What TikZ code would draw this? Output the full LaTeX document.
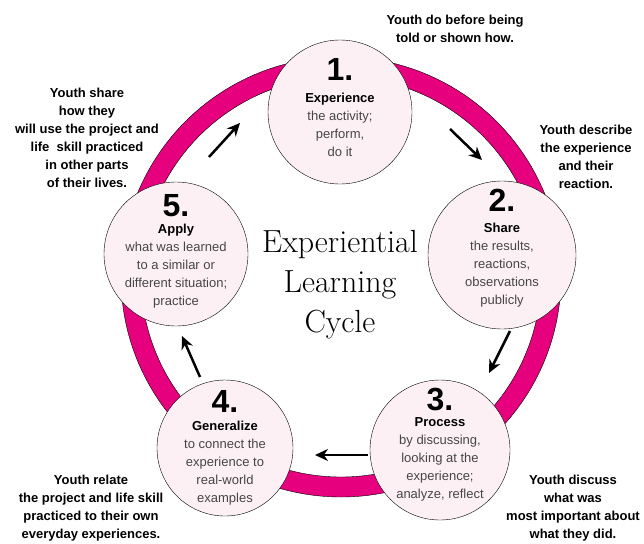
\documentclass[tikz,border=0pt]{standalone}
\usepackage{fontspec}
\setsansfont{Liberation Sans}
\usetikzlibrary{arrows.meta}
\definecolor{ringpink}{RGB}{230,0,126}
\definecolor{stagefill}{RGB}{252,240,244}
\definecolor{stagegray}{RGB}{70,70,70}
\newcommand\stagenum[1]{{\color{black}\fontsize{32}{30}\selectfont\bfseries#1}}
\newcommand\stagename[1]{{\color{black}\bfseries#1}}

\begin{document}
\begin{tikzpicture}[x=1pt,y=-1pt,
    stage/.style={circle,draw,thin,fill=stagefill,inner sep=0pt,minimum size=#1},
    stagetext/.style={align=center,text=stagegray,font=\sffamily\fontsize{13}{18}\selectfont},
    note/.style={align=center,font=\sffamily\bfseries\fontsize{13}{18}\selectfont},
    cyclearrow/.style={-{Stealth[length=13pt,width=12pt]},line width=2.5pt}]
        \useasboundingbox(0,0)rectangle(644,543);
        \coordinate(mid)at(341,277);
        \draw[thin,fill=ringpink,even odd rule](mid)circle(220)(mid)circle(200);

        \node[stage=144pt](exp)at(340,112){};
        \node[stage=148pt](shr)at(502,255){};
        \node[stage=140pt](proc)at(440,450){};
        \node[stage=136pt](gen)at(225,448){};
        \node[stage=144pt](appl)at(176,254){};

        \node[stagetext](exptxt)at(340,108){\stagenum{1.}\\[4pt]\stagename{Experience}\\the activity;\\perform,\\do it};
        \node[stagetext](shrtxt)at(502,248){\stagenum{2.}\\[3pt]\stagename{Share}\\the results,\\reactions,\\observations\\publicly};
        \node[stagetext](proctxt)at(440,445){\stagenum{3.}\\[-2pt]\stagename{Process}\\by discussing,\\looking at the\\experience;\\analyze, reflect};
        \node[stagetext](gentxt)at(225,448){\stagenum{4.}\\[0pt]\stagename{Generalize}\\to connect the\\experience to\\real-world\\examples};
        \node[stagetext](appltxt)at(176,251){\stagenum{5.}\\[-1pt]\stagename{Apply}\\what was learned\\to a similar or\\different situation;\\practice};

        \node[align=center,font=\fontsize{32}{40}\selectfont](title)at(340,285){Experiential\\Learning\\Cycle};

        \node[note](expnote)at(455,29){Youth do before being\\told or shown how.};
        \node[note](shrnote)at(586,157){Youth describe\\the experience\\and their\\reaction.};
        \node[note](procnote)at(573,508){Youth discuss\\what was\\most important about\\what they did.};
        \node[note](gennote)at(91,508){Youth relate\\the project and life skill\\practiced to their own\\everyday experiences.};
        \node[note](applnote)at(87,138){Youth share\\how they\\will use the project and\\life~ skill practiced\\in other parts\\of their lives.};

        \coordinate(a1s)at(450,129);\coordinate(a1e)at(482,160);
        \coordinate(a2s)at(510,331);\coordinate(a2e)at(489,373);
        \coordinate(a3s)at(368,455);\coordinate(a3e)at(315,455);
        \coordinate(a4s)at(200,377);\coordinate(a4e)at(182,336);
        \coordinate(a5s)at(209,157);\coordinate(a5e)at(240,123);
        \draw[cyclearrow](a1s)--(a1e);
        \draw[cyclearrow](a2s)--(a2e);
        \draw[cyclearrow](a3s)--(a3e);
        \draw[cyclearrow](a4s)--(a4e);
        \draw[cyclearrow](a5s)--(a5e);
    \end{tikzpicture}
\end{document}
